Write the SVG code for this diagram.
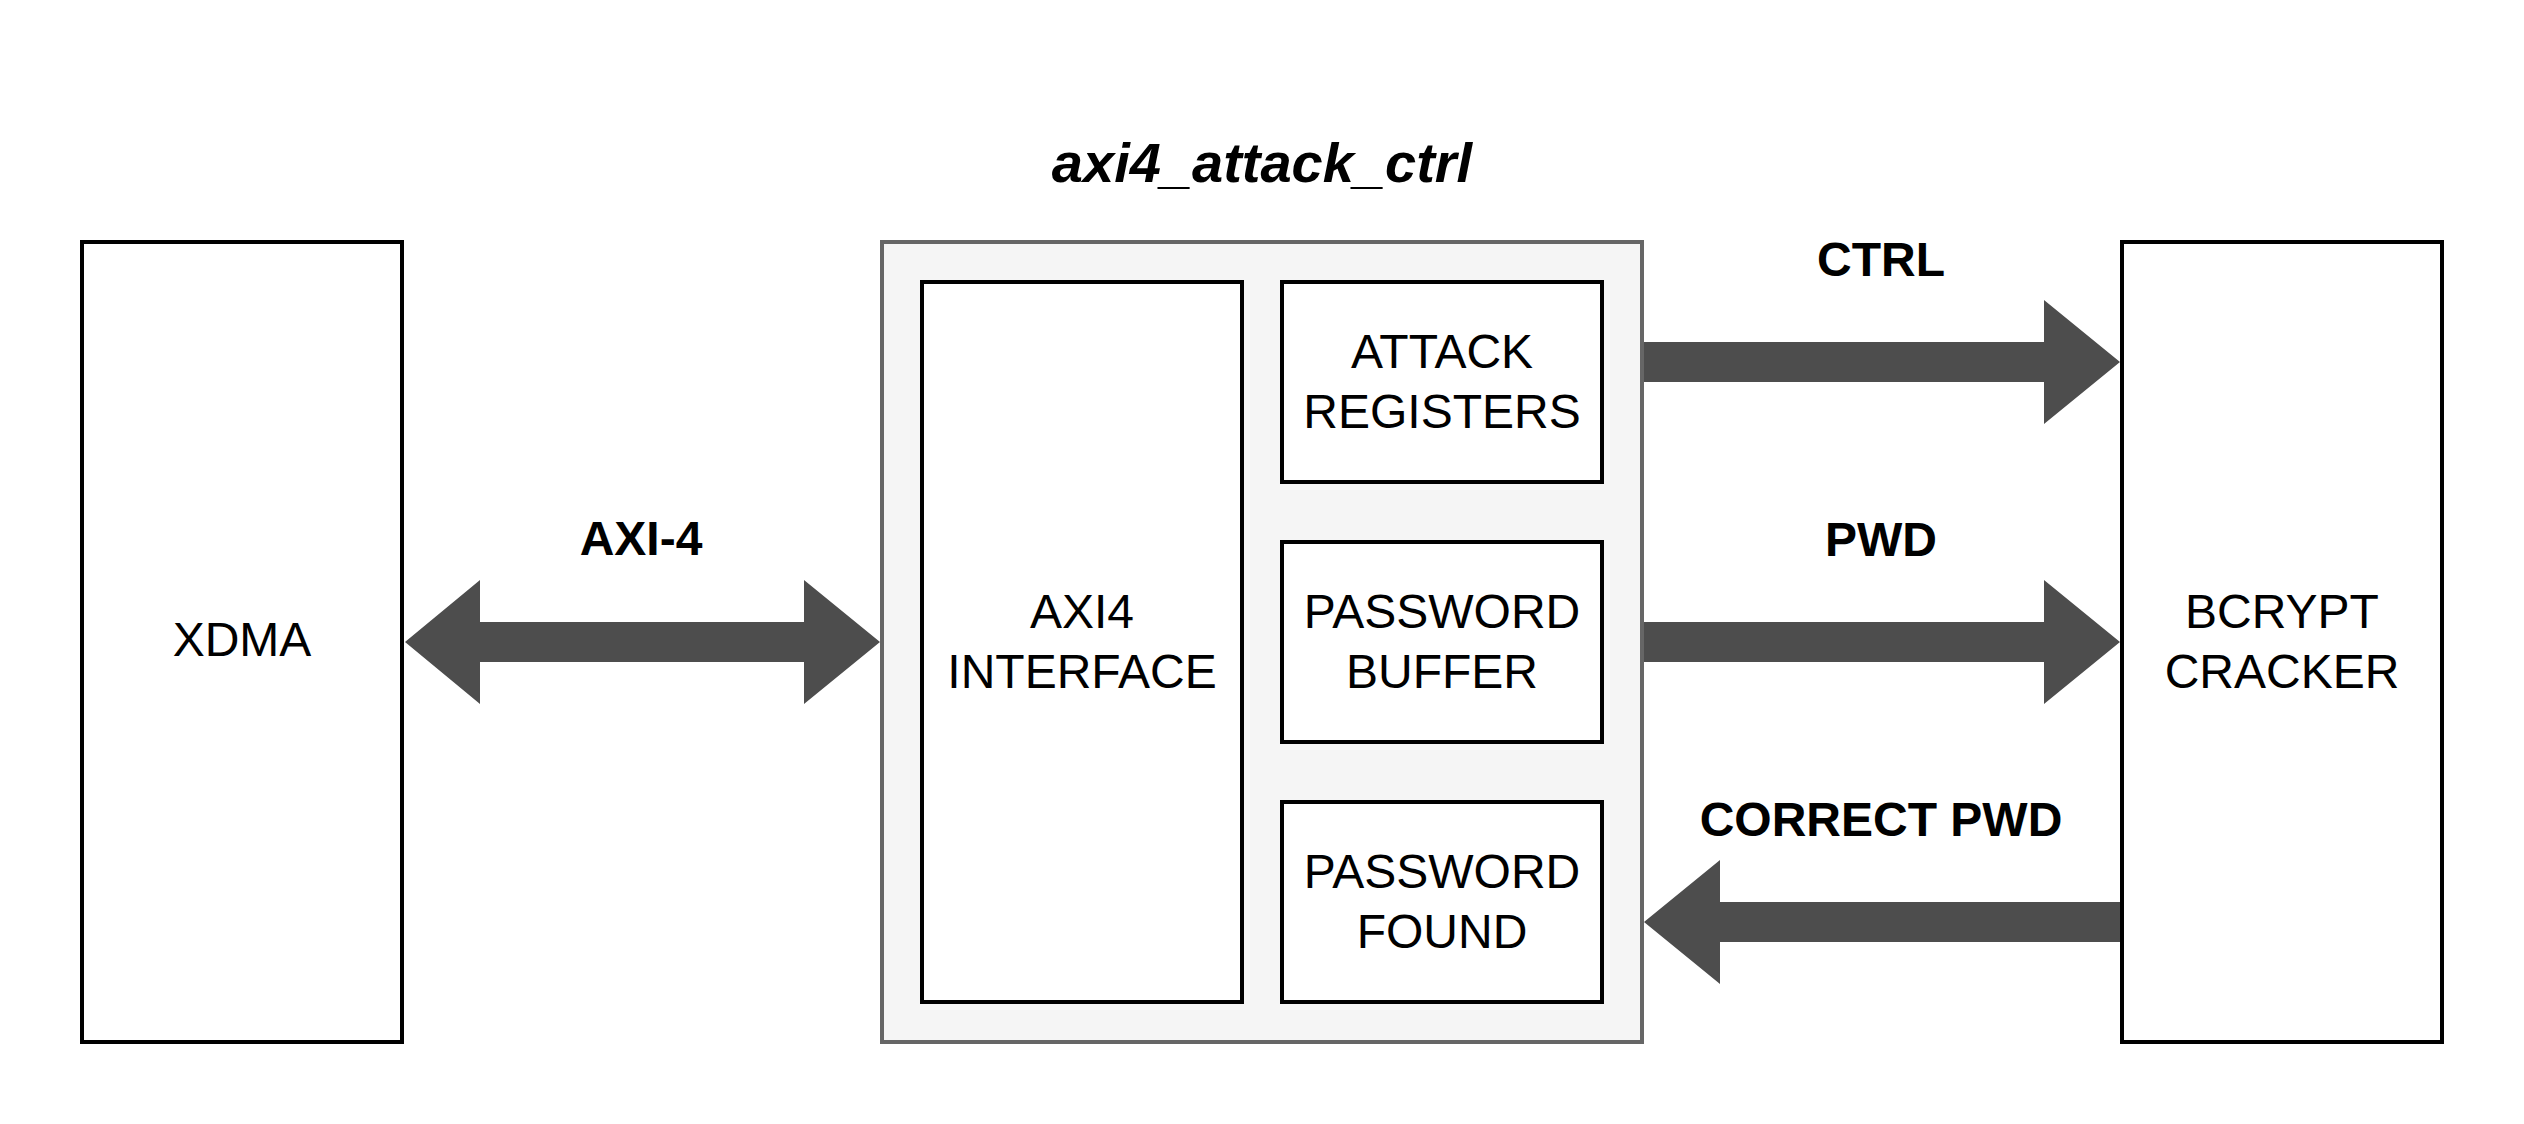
<svg xmlns="http://www.w3.org/2000/svg" width="2524" height="1124" viewBox="0 0 2524 1124">
<style>
.box{fill:#ffffff;stroke:#000000;stroke-width:4}
.cont{fill:#f5f5f5;stroke:#666666;stroke-width:4}
.lbl{font-family:"Liberation Sans",Arial,sans-serif;font-size:48px;fill:#000000;text-anchor:middle}
.b{font-weight:bold}
.arrow{fill:#4d4d4d;stroke:none}
</style>
<rect x="0" y="0" width="2524" height="1124" fill="#ffffff"/>
<g id="xdma">
<rect class="box" x="82" y="242" width="320" height="800"/>
<text class="lbl" x="242" y="656">XDMA</text>
</g>
<g id="axi4_attack_ctrl">
<rect class="cont" x="882" y="242" width="760" height="800"/>
<text class="lbl b" x="1262" y="182" font-style="italic" font-size="56px" style="font-size:56px">axi4_attack_ctrl</text>
</g>
<g id="axi4_interface">
<rect class="box" x="922" y="282" width="320" height="720"/>
<text class="lbl" x="1082" y="627.5">AXI4</text>
<text class="lbl" x="1082" y="687.5">INTERFACE</text>
</g>
<g id="attack_registers">
<rect class="box" x="1282" y="282" width="320" height="200"/>
<text class="lbl" x="1442" y="368">ATTACK</text>
<text class="lbl" x="1442" y="428">REGISTERS</text>
</g>
<g id="password_buffer">
<rect class="box" x="1282" y="542" width="320" height="200"/>
<text class="lbl" x="1442" y="628">PASSWORD</text>
<text class="lbl" x="1442" y="688">BUFFER</text>
</g>
<g id="password_found">
<rect class="box" x="1282" y="802" width="320" height="200"/>
<text class="lbl" x="1442" y="888">PASSWORD</text>
<text class="lbl" x="1442" y="948">FOUND</text>
</g>
<g id="bcrypt_cracker">
<rect class="box" x="2122" y="242" width="320" height="800"/>
<text class="lbl" x="2282" y="628">BCRYPT</text>
<text class="lbl" x="2282" y="688">CRACKER</text>
</g>
<g id="connectors">
<polygon class="arrow" points="405,642 480,580 480,622 804,622 804,580 880,642 804,704 804,662 480,662 480,704"/>
<text class="lbl b" x="641" y="555">AXI-4</text>
<polygon class="arrow" points="1644,342 2044,342 2044,300 2120,362 2044,424 2044,382 1644,382"/>
<text class="lbl b" x="1881" y="276">CTRL</text>
<polygon class="arrow" points="1644,622 2044,622 2044,580 2120,642 2044,704 2044,662 1644,662"/>
<text class="lbl b" x="1881" y="556">PWD</text>
<polygon class="arrow" points="2120,902 1720,902 1720,860 1644,922 1720,984 1720,942 2120,942"/>
<text class="lbl b" x="1881" y="836">CORRECT PWD</text>
</g>
</svg>
